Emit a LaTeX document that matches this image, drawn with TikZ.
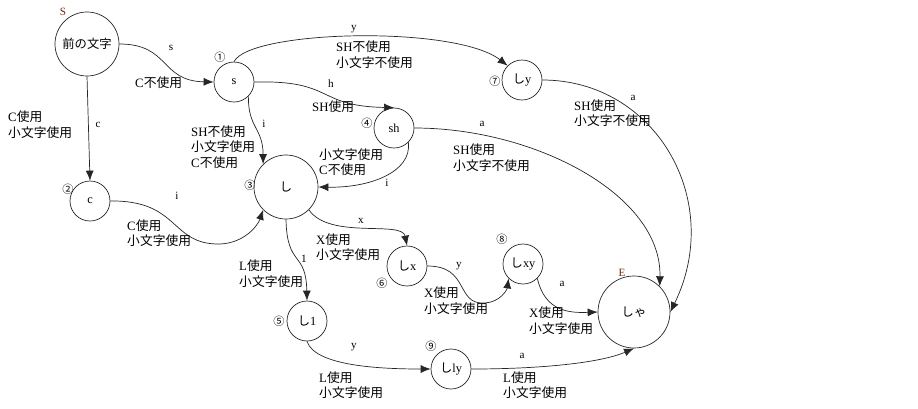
\documentclass[tikz,border=0pt]{standalone}
\usepackage{fontspec}
\setmainfont{Liberation Serif}
\newfontfamily\jp{Noto Sans CJK JP}
\usepackage{xcolor}
\usepackage{tikz}
\usetikzlibrary{arrows.meta, positioning}
\definecolor{brn}{RGB}{110,40,10}
\newcommand{\J}[1]{{\jp #1}}

\begin{document}
\begin{tikzpicture}[x=0.03cm, y=-0.03cm,
arr/.style={->, >={Latex[length=3mm,width=2.4mm]}, line width=0.6pt, black!85},
st/.style={circle, draw, line width=0.6pt, black!85, text=black, inner sep=0pt, minimum size=1.2cm,
font=\fontsize{10.5}{12}\selectfont},
bigst/.style={st, minimum size=1.92cm}, endst/.style={st, minimum size=2.16cm},
num/.style={font=\jp\fontsize{9.5}{10}\selectfont, inner sep=0pt},
chr/.style={font=\fontsize{9.5}{11}\selectfont, inner sep=0pt},
cond/.style={anchor=west, align=left, inner sep=0pt, font=\fontsize{10.9}{13.2}\selectfont} ]
\useasboundingbox (0,0) rectangle (918,408);
% states
\node[bigst] (S) at (87,44) {\J{前の文字}};
\node[st] (n1) at (234,82) {s};
\node[st] (n2) at (90,201) {c};
\node[bigst] (n3) at (286,187) {\J{し}};
\node[st] (n4) at (394,128) {sh};
\node[st] (n5) at (307,321) {\J{し}1};
\node[st] (n6) at (407,266) {\J{し}x};
\node[st] (n7) at (522,80) {\J{し}y};
\node[st] (n8) at (523,264) {\J{し}xy};
\node[st] (n9) at (451,369) {\J{し}ly};
\node[endst] (nE) at (634,312) {\J{しゃ}};
% state marks
\node[chr, text=brn] (mS) at (63,12) {S};
\node[chr, text=brn] (mE) at (622,273) {E};
\node[num] (m1) at (220,57) {①};
\node[num] (m2) at (68,189) {②};
\node[num] (m3) at (250,185) {③};
\node[num] (m4) at (367,123) {④};
\node[num] (m5) at (279,321) {⑤};
\node[num] (m6) at (382,283) {⑥};
\node[num] (m7) at (495,81) {⑦};
\node[num] (m8) at (502,239) {⑧};
\node[num] (m9) at (431,346) {⑨};
% transitions
\draw[arr] (S.east) .. controls (170,44) and (160,81) .. (n1.west);
\draw[arr] (S.south) -- (n2.north);
\draw[arr] (n2.east) .. controls (180,200) and (170,245) .. (220,244) .. controls (245,243) and (258,225) .. (n3.south west);
\draw[arr] (n1.south east) .. controls (248,128) and (263,128) .. (n3.north west);
\draw[arr] (n1.east) .. controls (335,80) and (315,106) .. (n4.north);
\draw[arr] (n1.north) .. controls (250,30) and (455,25) .. (n7.north west);
\draw[arr] (n4.south east) .. controls (412,172) and (370,188) .. (n3.east);
\draw[arr] (n4.east) .. controls (535,128) and (662,195) .. (nE.north east);
\draw[arr] (n7.east) .. controls (655,80) and (725,200) .. (nE.east);
\draw[arr] (n3.south) .. controls (287,268) and (306,250) .. (n5.north);
\draw[arr] (n3.south east) .. controls (330,240) and (402,220) .. (n6.north);
\draw[arr] (n6.east) .. controls (470,266) and (455,305) .. (485,303) .. controls (500,302) and (507,290) .. (n8.south west);
\draw[arr] (n8.south east) .. controls (545,312) and (570,313) .. (nE.west);
\draw[arr] (n5.south) .. controls (315,366) and (380,369) .. (n9.west);
\draw[arr] (n9.east) .. controls (540,369) and (600,363) .. (nE.south);
% input letters
\node[chr] (cS1) at (171,48) {s};
\node[chr] (cS2) at (98,125) {c};
\node[chr] (c23) at (177,196) {i};
\node[chr] (c13) at (264,124) {i};
\node[chr] (c14) at (331,84) {h};
\node[chr] (c17) at (354,29) {y};
\node[chr] (c43) at (387,183) {i};
\node[chr] (c4E) at (482,124) {a};
\node[chr] (c7E) at (633,98) {a};
\node[chr] (c35) at (304,259) {1};
\node[chr] (c36) at (361,221) {x};
\node[chr] (c68) at (459,266) {y};
\node[chr] (c8E) at (562,284) {a};
\node[chr] (c59) at (354,347) {y};
\node[chr] (c9E) at (522,356) {a};
% conditions
\node[cond] (kS1) at (135,83) {C\J{不使用}};
\node[cond] (kS2) at (8,124.5) {C\J{使用}\\\J{小文字使用}};
\node[cond] (k23) at (127,233) {C\J{使用}\\\J{小文字使用}};
\node[cond] (k13) at (191,147) {SH\J{不使用}\\\J{小文字使用}\\C\J{不使用}};
\node[cond] (k14) at (312,107) {SH\J{使用}};
\node[cond] (k17) at (336,54.5) {SH\J{不使用}\\\J{小文字不使用}};
\node[cond] (k43) at (319,162) {\J{小文字使用}\\C\J{不使用}};
\node[cond] (k4E) at (453,157.5) {SH\J{使用}\\\J{小文字不使用}};
\node[cond] (k7E) at (574,113) {SH\J{使用}\\\J{小文字不使用}};
\node[cond] (k35) at (239,273.5) {L\J{使用}\\\J{小文字使用}};
\node[cond] (k36) at (316,247) {X\J{使用}\\\J{小文字使用}};
\node[cond] (k68) at (424,300.5) {X\J{使用}\\\J{小文字使用}};
\node[cond] (k8E) at (529,320.5) {X\J{使用}\\\J{小文字使用}};
\node[cond] (k59) at (319,385) {L\J{使用}\\\J{小文字使用}};
\node[cond] (k9E) at (503,385) {L\J{使用}\\\J{小文字使用}};
\end{tikzpicture}
\end{document}
